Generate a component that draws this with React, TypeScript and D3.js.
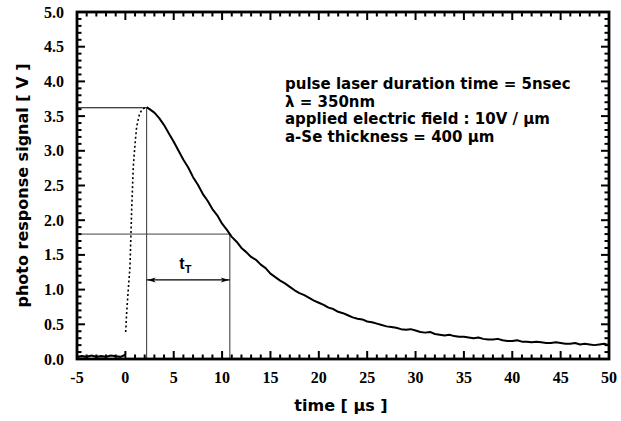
import React from "react";
import * as d3 from "d3";

const W = 621;
const H = 421;
const margin = { left: 77, right: 12, top: 12, bottom: 62 };

const xTicks = [-5, 0, 5, 10, 15, 20, 25, 30, 35, 40, 45, 50];
const yTicks = [0, 0.5, 1.0, 1.5, 2.0, 2.5, 3.0, 3.5, 4.0, 4.5, 5.0];

// baseline before the pulse
const baseX = [-5, -4.5, -4, -3.5, -3, -2.5, -2, -1.5, -1, -0.5, 0];
const baseY = [0.03, 0.04, 0.03, 0.05, 0.03, 0.04, 0.03, 0.05, 0.04, 0.03, 0.06];

// rising edge (sparse / dotted)
const riseX = [0.03, 0.13, 0.3, 0.48, 0.65, 0.82, 1.0, 1.17, 1.45, 1.69, 2.0, 2.2];
const riseY = [0.39, 0.66, 1.0, 1.33, 2.15, 2.77, 3.1, 3.35, 3.52, 3.59, 3.62, 3.63];

// decay
const decayX = [
  2.2, 2.5, 3, 3.5, 4, 4.5, 5, 5.5, 6, 6.5, 7, 7.5, 8, 8.5, 9, 9.5, 10, 10.5, 11, 11.5,
  12, 12.5, 13, 13.5, 14, 14.5, 15, 15.5, 16, 16.5, 17, 17.5, 18, 18.5, 19, 19.5, 20, 20.5,
  21, 21.5, 22, 22.5, 23, 23.5, 24, 24.5, 25, 25.5, 26, 26.5, 27, 27.5, 28, 28.5, 29, 29.5,
  30, 30.5, 31, 31.5, 32, 32.5, 33, 33.5, 34, 34.5, 35, 35.5, 36, 36.5, 37, 37.5, 38, 38.5,
  39, 39.5, 40, 40.5, 41, 41.5, 42, 42.5, 43, 43.5, 44, 44.5, 45, 45.5, 46, 46.5, 47, 47.5,
  48, 48.5, 49, 49.5, 50,
];
const decayY = [
  3.63, 3.6, 3.55, 3.47, 3.37, 3.25, 3.13, 3.0, 2.87, 2.76, 2.62, 2.51, 2.38, 2.28, 2.16, 2.07, 1.95, 1.86, 1.76, 1.69,
  1.6, 1.54, 1.47, 1.43, 1.36, 1.31, 1.23, 1.18, 1.13, 1.09, 1.04, 0.99, 0.95, 0.92, 0.88, 0.84, 0.81, 0.78,
  0.74, 0.72, 0.68, 0.66, 0.63, 0.6, 0.58, 0.57, 0.54, 0.53, 0.51, 0.49, 0.47, 0.46, 0.45, 0.43, 0.42, 0.43,
  0.41, 0.39, 0.38, 0.39, 0.36, 0.35, 0.34, 0.35, 0.33, 0.32, 0.32, 0.31, 0.3, 0.31, 0.29, 0.28, 0.28, 0.29,
  0.27, 0.26, 0.26, 0.27, 0.25, 0.25, 0.24, 0.25, 0.24, 0.23, 0.23, 0.24, 0.23, 0.22, 0.22, 0.23, 0.21, 0.22,
  0.21, 0.2, 0.21, 0.22, 0.2,
];

const peakX = 2.2;
const peakY = 3.62;
const halfX = 10.8;
const halfY = 1.8;
const arrowY = 1.14;

const annotations = [
  "pulse laser duration time = 5nsec",
  "\u03bb = 350nm",
  "applied electric field :  10V / \u03bcm",
  "a-Se thickness = 400 \u03bcm",
];

export default function App() {
  const x = d3.scaleLinear().domain([-5, 50]).range([margin.left, W - margin.right]);
  const y = d3.scaleLinear().domain([0, 5]).range([H - margin.bottom, margin.top]);
  const x0 = x(-5), x1 = x(50), y0 = y(0), y1 = y(5);

  const line = d3.line<[number, number]>().x((d) => x(d[0])).y((d) => y(d[1]));
  const base = baseX.map((v, i) => [v, baseY[i]] as [number, number]);
  const rise = riseX.map((v, i) => [v, riseY[i]] as [number, number]);
  const decay = decayX.map((v, i) => [v, decayY[i]] as [number, number]);

  const xMinor = d3.range(-5, 50.001, 1);
  const yMinor = d3.range(0, 5.0001, 0.1);
  const isMajorX = (v: number) => Math.abs(v / 5 - Math.round(v / 5)) < 1e-6;
  const isMajorY = (v: number) => Math.abs(v / 0.5 - Math.round(v / 0.5)) < 1e-6;

  const tickFont = "'Liberation Serif', 'Times New Roman', serif";
  const sansFont = "'Liberation Sans', Arial, sans-serif";
  const wideFont = "'DejaVu Sans', Verdana, sans-serif";

  return (
    <svg width={W} height={H} style={{ position: "absolute", left: 0, top: 0, background: "#fff" }}>
      <rect x={0} y={0} width={W} height={H} fill="#fff" />
      {/* reference lines */}
      <line x1={x0} x2={x(peakX)} y1={y(peakY)} y2={y(peakY)} stroke="#000" strokeWidth={1} />
      <line x1={x(peakX)} x2={x(peakX)} y1={y(peakY)} y2={y0} stroke="#333" strokeWidth={1} />
      <line x1={x0} x2={x(halfX)} y1={y(halfY)} y2={y(halfY)} stroke="#444" strokeWidth={1} />
      <line x1={x(halfX)} x2={x(halfX)} y1={y(halfY)} y2={y0} stroke="#333" strokeWidth={1} />
      {/* double arrow */}
      <line x1={x(peakX)} x2={x(halfX)} y1={y(arrowY)} y2={y(arrowY)} stroke="#000" strokeWidth={1.3} />
      <path
        d={`M${x(peakX) + 1},${y(arrowY)} L${x(peakX) + 9},${y(arrowY) - 2.5} L${x(peakX) + 7},${y(arrowY)} L${x(peakX) + 9},${y(arrowY) + 2.5} Z`}
        fill="#000"
      />
      <path
        d={`M${x(halfX) - 1},${y(arrowY)} L${x(halfX) - 9},${y(arrowY) - 2.5} L${x(halfX) - 7},${y(arrowY)} L${x(halfX) - 9},${y(arrowY) + 2.5} Z`}
        fill="#000"
      />
      <text x={x(6.2)} y={y(1.3)} fontFamily={sansFont} fontWeight="bold" fontSize={16} textAnchor="middle">
        t<tspan fontSize={11} dy={4}>T</tspan>
      </text>

      {/* data */}
      <path d={line(base) || ""} fill="none" stroke="#000" strokeWidth={2.2} />
      <path d={line(rise) || ""} fill="none" stroke="#000" strokeWidth={1.6} strokeDasharray="2 2.5" />
      <path d={line(decay) || ""} fill="none" stroke="#000" strokeWidth={2} strokeLinejoin="round" />

      {/* ticks */}
      {xMinor.map((v) => {
        const len = isMajorX(v) ? 8 : 4.5;
        return (
          <g key={"xt" + v}>
            <line x1={x(v)} x2={x(v)} y1={y0} y2={y0 - len} stroke="#000" strokeWidth={2} />
            <line x1={x(v)} x2={x(v)} y1={y1} y2={y1 + len} stroke="#000" strokeWidth={2} />
          </g>
        );
      })}
      {yMinor.map((v) => {
        const len = isMajorY(v) ? 8 : 4.5;
        return (
          <g key={"yt" + v.toFixed(1)}>
            <line x1={x0} x2={x0 + len} y1={y(v)} y2={y(v)} stroke="#000" strokeWidth={2} />
            <line x1={x1} x2={x1 - len} y1={y(v)} y2={y(v)} stroke="#000" strokeWidth={2} />
          </g>
        );
      })}

      {/* frame */}
      <rect x={x0} y={y1} width={x1 - x0} height={y0 - y1} fill="none" stroke="#000" strokeWidth={2.8} />

      {/* tick labels */}
      {xTicks.map((v) => (
        <text key={"xl" + v} x={x(v)} y={y0 + 24} textAnchor="middle" fontFamily={tickFont} fontWeight="bold" fontSize={16}>
          {v}
        </text>
      ))}
      {yTicks.map((v) => (
        <text key={"yl" + v} x={x0 - 13} y={y(v) + 5.5} textAnchor="end" fontFamily={tickFont} fontWeight="bold" fontSize={16}>
          {v.toFixed(1)}
        </text>
      ))}

      {/* axis titles */}
      <text x={(x0 + x1) / 2 - 2} y={H - 10} textAnchor="middle" fontFamily={wideFont} fontWeight="bold" fontSize={16}>
        time [ {"\u03bcs"} ]
      </text>
      <text
        transform={`translate(28,${(y0 + y1) / 2}) rotate(-90)`}
        textAnchor="middle"
        fontFamily={wideFont}
        fontWeight="bold"
        fontSize={16}
      >
        photo response signal [ V ]
      </text>

      {/* annotation */}
      {annotations.map((t, i) => (
        <text key={"an" + i} x={285} y={89 + i * 17.7} fontFamily={wideFont} fontWeight="bold" fontSize={15}>
          {t}
        </text>
      ))}
    </svg>
  );
}
